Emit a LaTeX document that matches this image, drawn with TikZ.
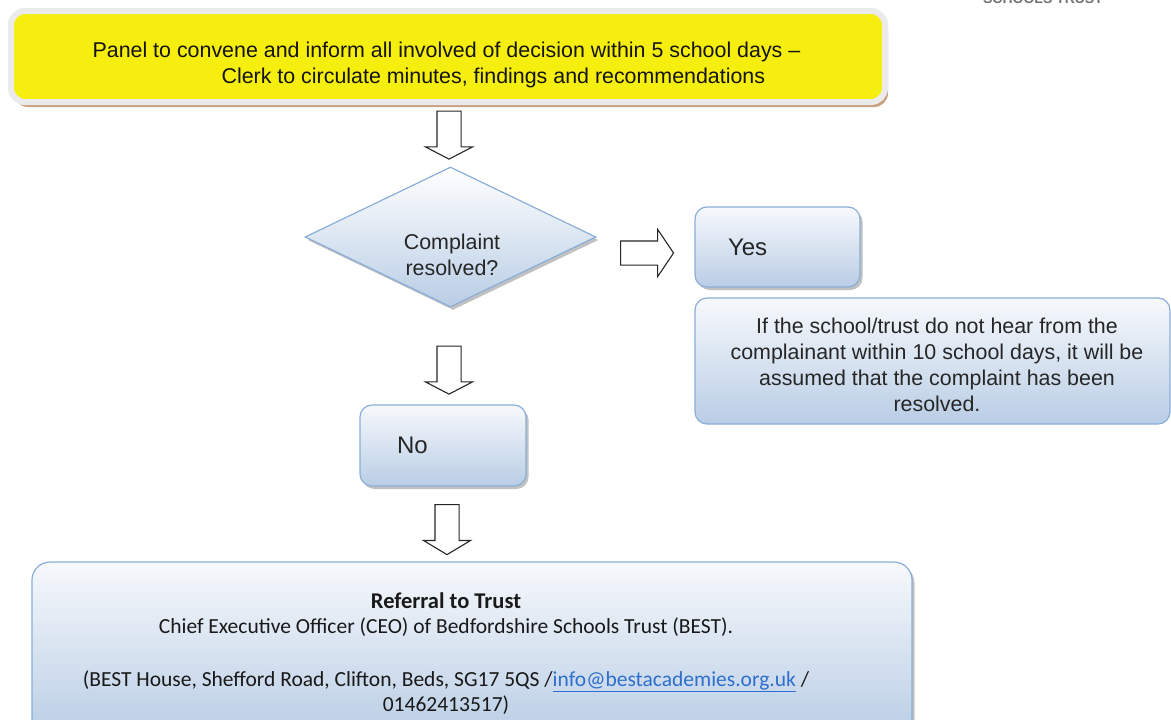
\documentclass[tikz,border=0pt]{standalone}
\usepackage{fontspec}
\setmainfont{Liberation Sans}
\newfontfamily\calib{Carlito}
\usetikzlibrary{shapes.geometric,shapes.arrows,shadows}
\definecolor{ink}{HTML}{262626}
\definecolor{boxtop}{HTML}{F7F9FC}
\definecolor{boxbot}{HTML}{B9CDE5}
\definecolor{boxline}{HTML}{8AAED8}
\definecolor{yel}{HTML}{F6EE0E}
\definecolor{rim}{HTML}{EBEBEB}
\definecolor{brownsh}{HTML}{C9A07E}
\definecolor{linkc}{HTML}{2F6FCE}
\tikzset{
  txt/.style={text=ink, font=\fontsize{21.4}{26}\selectfont, inner sep=0pt},
  bluebox/.style={rounded corners=12pt, top color=boxtop, bottom color=boxbot, draw=boxline, line width=1.2pt, inner sep=0pt},
  bshadow/.style={drop shadow={shadow xshift=2.5pt, shadow yshift=-3pt, opacity=0.35, fill=black!70}},
  blockarrow/.style={single arrow, draw=black!85, fill=white, line width=1.1pt, inner xsep=0pt, inner ysep=11.5pt, single arrow head extend=11.5pt, minimum height=48pt, single arrow tip angle=125},
}
\begin{document}
\begin{tikzpicture}[x=1pt, y=-1pt]
\useasboundingbox (0,0) rectangle (1171,720);

% partly visible logo text at top right
\node[anchor=base, text=black!55, font=\fontsize{14}{14}\selectfont\bfseries, inner sep=0pt] (logo) at (1043,3) {SCHOOLS TRUST};

% top yellow box
\node[fill=yel, draw=rim, line width=6pt, rounded corners=14pt, minimum width=874pt, minimum height=91pt, inner sep=0pt,
      drop shadow={shadow xshift=3pt, shadow yshift=-5pt, fill=brownsh, opacity=1}] (top) at (448,56.5) {};
\node[txt, align=left, text=black!92] (toptext) at (446.5,65) {Panel to convene and inform all involved of decision within 5 school days --\\\hspace*{129pt}Clerk to circulate minutes, findings and recommendations};

% arrow down 1
\node[blockarrow, rotate=-90] (a1) at (449,132) {};

% diamond
\node[diamond, top color=white, bottom color=boxbot, draw=boxline, line width=1.2pt, minimum width=291pt, minimum height=140pt, inner sep=0pt, bshadow] (dia) at (450.5,237) {};
\node[txt, align=center] (diatext) at (452,255) {Complaint\\resolved?};

% right arrow
\node[blockarrow, minimum height=53pt, single arrow tip angle=112] (a2) at (643,253) {};

% yes box
\node[bluebox, bshadow, minimum width=165pt, minimum height=80pt, inner xsep=33pt, text width=99pt, align=left, text=ink, font=\fontsize{24}{28}\selectfont] (yes) at (777.5,247) {Yes};

% note box
\node[bluebox, minimum width=475pt, minimum height=126pt] (note) at (932.5,361) {};
\node[txt, align=center] (notetext) at (937,365) {If the school/trust do not hear from the\\complainant within 10 school days, it will be\\assumed that the complaint has been\\resolved.};

% arrow down 2
\node[blockarrow, rotate=-90] (a3) at (449,367) {};

% no box
\node[bluebox, bshadow, minimum width=166pt, minimum height=81pt, inner xsep=37pt, text width=92pt, align=left, text=ink, font=\fontsize{24}{28}\selectfont] (no) at (443,445.5) {No};

% arrow down 3
\node[blockarrow, rotate=-90, minimum height=50pt, single arrow tip angle=118] (a4) at (447,526) {};

% bottom box
\node[bluebox, bshadow, rounded corners=18pt, minimum width=880pt, minimum height=175pt] (trust) at (472,649.5) {};
\node[text=black!90, inner sep=0pt, align=center, font=\calib\fontsize{21.5}{25.5}\selectfont] (trusttext) at (446,653.5)
  {{\fontsize{22.5}{25.5}\selectfont\textbf{Referral to Trust}}\\Chief Executive Officer (CEO) of Bedfordshire Schools Trust (BEST).\\[27pt](BEST House, Shefford Road, Clifton, Beds, SG17 5QS /\textcolor{linkc}{\underline{info@bestacademies.org.uk}} /\\01462413517)};
\end{tikzpicture}
\end{document}
